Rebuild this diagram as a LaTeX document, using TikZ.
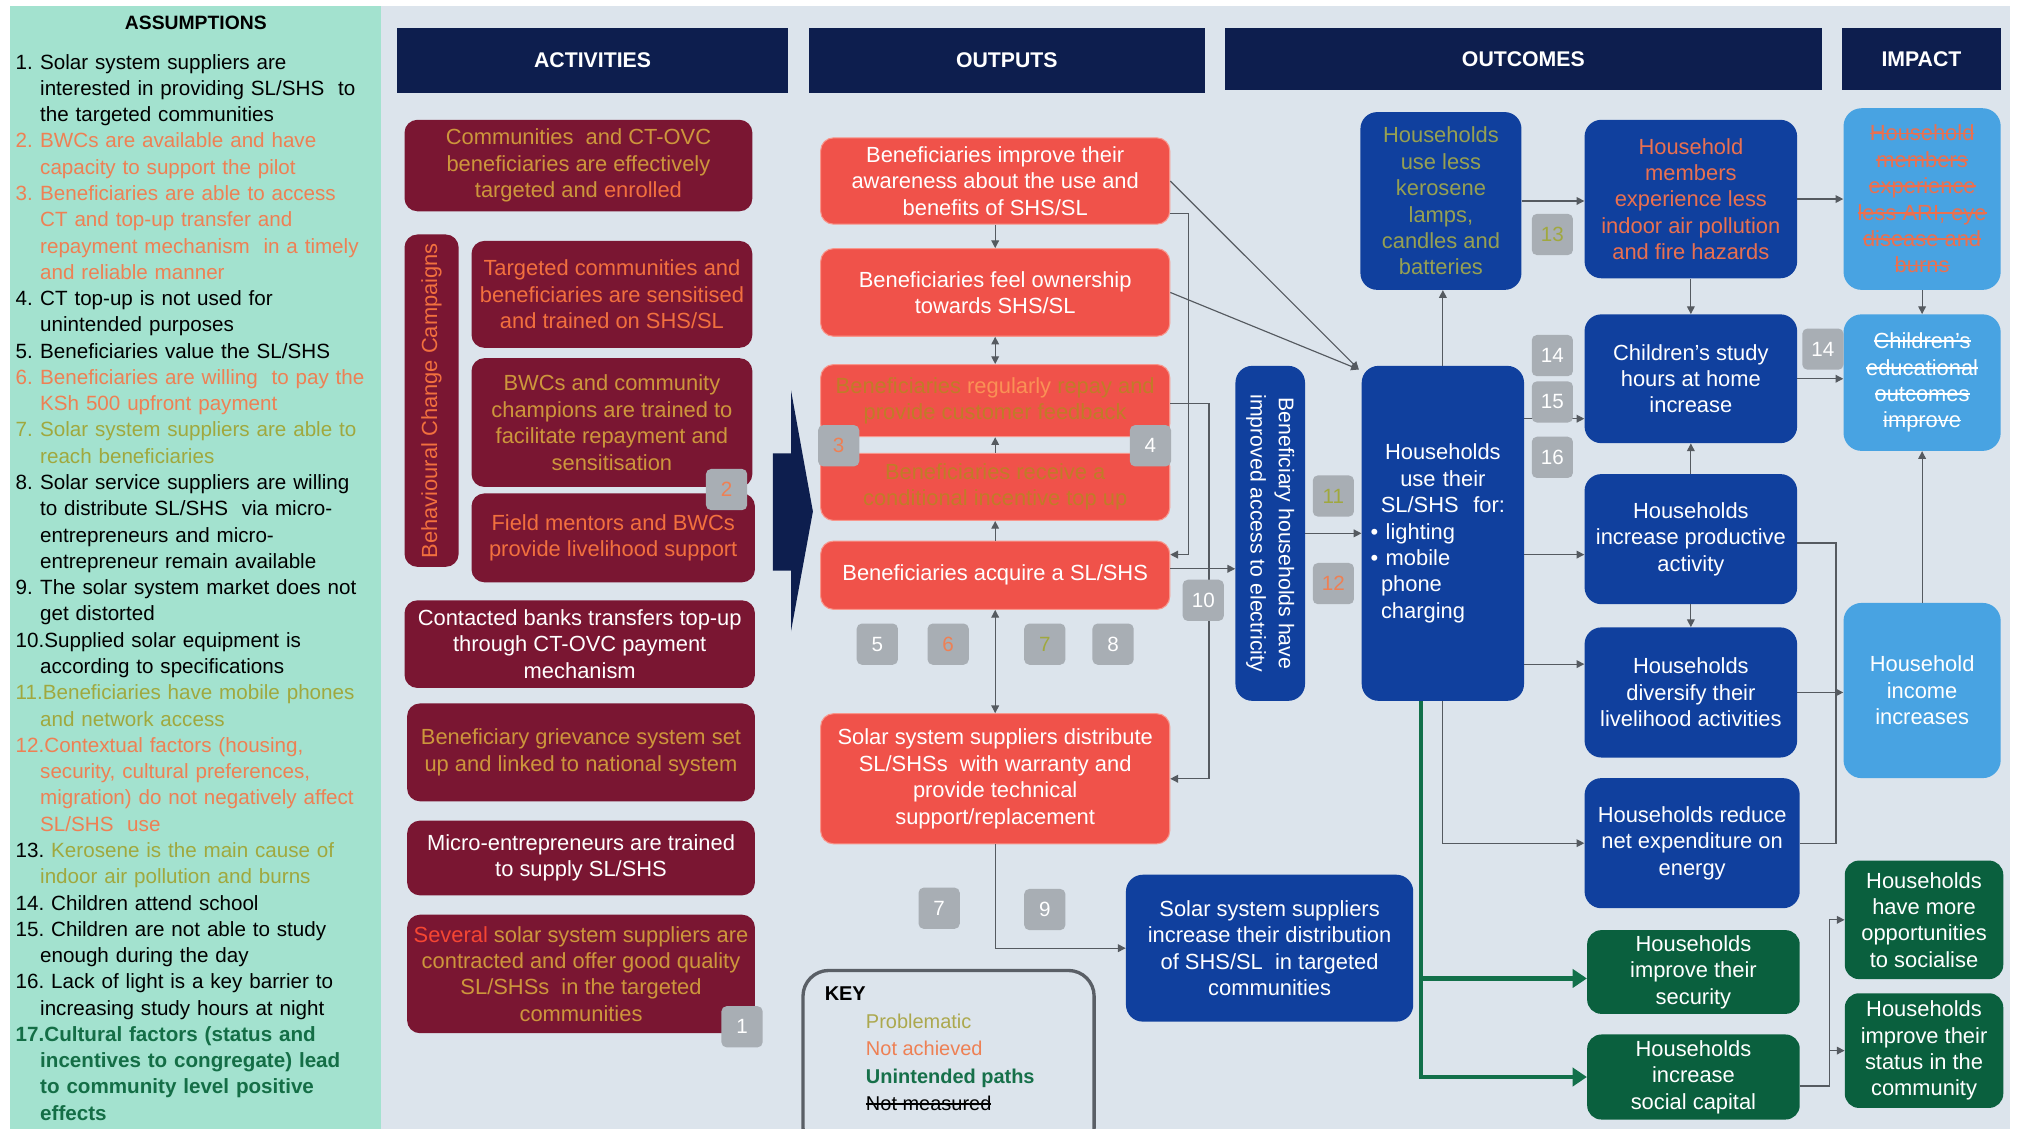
\documentclass[tikz,border=0pt]{standalone}
\usepackage{fontspec}
\setmainfont{Liberation Sans}
\usetikzlibrary{arrows.meta,calc}

\definecolor{bg}{RGB}{220,228,236}
\definecolor{mint}{RGB}{163,226,207}
\definecolor{navy}{RGB}{13,30,78}
\definecolor{maroon}{RGB}{122,22,50}
\definecolor{outred}{RGB}{240,82,74}
\definecolor{outedge}{RGB}{248,150,140}
\definecolor{oblue}{RGB}{16,64,158}
\definecolor{iblue}{RGB}{72,163,226}
\definecolor{ggreen}{RGB}{10,96,62}
\definecolor{gline}{RGB}{18,112,74}
\definecolor{badgegray}{RGB}{168,174,180}
\definecolor{arrowgray}{RGB}{85,90,96}
\definecolor{keygray}{RGB}{90,95,102}
\definecolor{prob}{RGB}{160,168,62}
\definecolor{probk}{RGB}{172,168,78}
\definecolor{notach}{RGB}{238,128,84}
\definecolor{gold}{RGB}{205,150,60}
\definecolor{hotorange}{RGB}{242,112,62}
\definecolor{sevred}{RGB}{245,70,50}
\definecolor{brownish}{RGB}{192,124,40}
\definecolor{regorange}{RGB}{250,145,85}
\definecolor{kerolive}{RGB}{150,160,82}
\definecolor{salmon}{RGB}{234,112,80}
\definecolor{unint}{RGB}{22,112,74}
\definecolor{asmgreen}{RGB}{20,110,70}

% numbered assumption with hanging indent
\newcommand\numbox[1]{\setbox0=\hbox{#1}\ifdim\wd0<19pt\hbox to 19pt{#1\hfil}\else\hbox{#1}\fi}
\newcommand\asm[3]{\par\hangindent=19pt\hangafter=1\noindent{\color{#1}\numbox{#2}#3}}
% struck-through word
\newcommand\strk[1]{\leavevmode\setbox2=\hbox{#1}\rlap{\copy2}\rule[0.3em]{\wd2}{0.075em}}

\tikzset{
  boxfont/.style={font=\fontsize{17}{20.5}\selectfont},
  hdr/.style={fill=navy, text=white, inner sep=0pt, font=\bfseries\fontsize{16.5}{20}\selectfont},
  act/.style={boxfont, fill=maroon, rounded corners=10pt, align=center, inner sep=0pt, text=white},
  outp/.style={boxfont, fill=outred, draw=outedge, line width=0.8pt, rounded corners=10pt, align=center, inner sep=0pt, text=white},
  outc/.style={boxfont, fill=oblue, rounded corners=13pt, align=center, inner sep=0pt, text=white},
  imp/.style={boxfont, fill=iblue, rounded corners=14pt, align=center, inner sep=0pt, text=white},
  grn/.style={boxfont, fill=ggreen, rounded corners=11pt, align=center, inner sep=0pt, text=white},
  badge/.style={fill=badgegray, rounded corners=4pt, minimum width=32pt, minimum height=32pt, inner sep=0pt, text=white, font=\fontsize{16}{16}\selectfont},
  keybox/.style={draw=keygray, line width=2.6pt, rounded corners=20pt},
  ln/.style={draw=arrowgray, line width=0.9pt},
  arr/.style={ln, -{Triangle[length=6pt,width=6pt]}},
  darr/.style={ln, {Triangle[length=6pt,width=6pt]}-{Triangle[length=6pt,width=6pt]}},
  garr/.style={draw=gline, line width=3.6pt, -{Triangle[length=11pt,width=14pt]}},
}

\begin{document}
\begin{tikzpicture}[x=1pt,y=-1pt,font=\fontsize{16}{20.5}\selectfont]
\useasboundingbox (0,0) rectangle (1568,876);
\clip (0,0) rectangle (1568,876);
\fill[white] (0,0) rectangle (1568,876);
\fill[bg] (296,5) rectangle (1560,876);
\fill[mint] (8,5) rectangle (296,876);

% ---------- assumptions panel ----------
\node[font=\bfseries\fontsize{15}{18}\selectfont] (asmtitle) at (152,18) {ASSUMPTIONS};
\node[anchor=north west, inner sep=0pt, text width=285pt, align=left, font=\fontsize{16}{20.4}\selectfont] (asmlist) at (12,33) {%
\asm{black}{1.}{Solar system suppliers are\newline interested in providing SL/SHS\ \ to\newline the targeted communities}
\asm{notach}{2.}{BWCs are available and have\newline capacity to support the pilot}
\asm{notach}{3.}{Beneficiaries are able to access\newline CT and top-up transfer and\newline repayment mechanism\ \ in a timely\newline and reliable manner}
\asm{black}{4.}{CT top-up is not used for\newline unintended purposes}
\asm{black}{5.}{Beneficiaries value the SL/SHS}
\asm{notach}{6.}{Beneficiaries are willing\ \ to pay the\newline KSh 500 upfront payment}
\asm{prob}{7.}{Solar system suppliers are able to\newline reach beneficiaries}
\asm{black}{8.}{Solar service suppliers are willing\newline to distribute SL/SHS\ \ via micro-\newline entrepreneurs and micro-\newline entrepreneur remain available}
\asm{black}{9.}{The solar system market does not\newline get distorted}
\asm{black}{10.}{Supplied solar equipment is\newline according to specifications}
\asm{prob}{11.}{Beneficiaries have mobile phones\newline and network access}
\asm{notach}{12.}{Contextual factors (housing,\newline security, cultural preferences,\newline migration) do not negatively affect\newline SL/SHS\ \ use}
\asm{black}{13.\ }{\color{prob}Kerosene is the main cause of\newline indoor air pollution and burns}
\asm{black}{14.\ }{Children attend school}
\asm{black}{15.\ }{Children are not able to study\newline enough during the day}
\asm{black}{16.\ }{Lack of light is a key barrier to\newline increasing study hours at night}
\asm{asmgreen}{\bfseries 17.}{\bfseries Cultural factors (status and\newline incentives to congregate) lead\newline to community level positive\newline effects}\par
};

% ---------- column headers ----------
\node[hdr, minimum width=304pt, minimum height=50pt] (hact) at (460,47) {ACTIVITIES};
\node[hdr, minimum width=307pt, minimum height=50pt] (hout) at (781.5,47) {OUTPUTS};
\node[hdr, minimum width=463pt, minimum height=48pt] (houtc) at (1182.5,46) {OUTCOMES};
\node[hdr, minimum width=123pt, minimum height=48pt] (himp) at (1491.5,46) {IMPACT};

% ---------- activities ----------
\node[act, minimum width=270pt, minimum height=71pt, text=gold] (a1) at (449,128.5)
  {Communities\ \ and CT-OVC\\beneficiaries are effectively\\targeted and {\color{hotorange}enrolled}};
\node[act, minimum width=42pt, minimum height=258pt] (bcc) at (335,311) {};
\node[rotate=90, text=hotorange, inner sep=0pt, font=\fontsize{17}{20}\selectfont] (bcctext) at (bcc) {Behavioural Change Campaigns};
\node[act, minimum width=218pt, minimum height=83pt, text=hotorange] (a2) at (475,228.5)
  {Targeted communities and\\beneficiaries are sensitised\\and trained on SHS/SL};
\node[act, minimum width=218pt, minimum height=100pt, text=gold] (a3) at (475,328)
  {BWCs and community\\champions are trained to\\facilitate repayment and\\sensitisation};
\node[act, minimum width=220pt, minimum height=69pt, text=hotorange] (a4) at (476,417.5)
  {Field mentors and BWCs\\provide livelihood support};
\node[act, minimum width=272pt, minimum height=68pt] (a5) at (450,500)
  {Contacted banks transfers top-up\\through CT-OVC payment\\mechanism};
\node[act, minimum width=270pt, minimum height=76pt, text=gold] (a6) at (451,584)
  {Beneficiary grievance system set\\up and linked to national system};
\node[act, minimum width=270pt, minimum height=58pt] (a7) at (451,666)
  {Micro-entrepreneurs are trained\\to supply SL/SHS};
\node[act, minimum width=270pt, minimum height=92pt, text=gold] (a8) at (451,756)
  {{\color{sevred}Several} solar system suppliers are\\contracted and offer good quality\\SL/SHSs\ \ in the targeted\\communities};

% arrow from activities to outputs
\fill[navy] (614,303) -- (631,397) -- (614,490) -- (614,443) -- (600,443) -- (600,352) -- (614,352) -- cycle;

% ---------- outputs ----------
\node[outp, minimum width=271pt, minimum height=67pt] (o1) at (772.5,140.5)
  {Beneficiaries improve their\\awareness about the use and\\benefits of SHS/SL};
\node[outp, minimum width=271pt, minimum height=68pt] (o2) at (772.5,227)
  {Beneficiaries feel ownership\\towards SHS/SL};
\node[outp, minimum width=271pt, minimum height=56pt, text=brownish] (o3) at (772.5,311)
  {Beneficiaries {\color{regorange}regularly} repay and\\provide customer feedback};
\node[outp, minimum width=271pt, minimum height=52pt, text=brownish] (o4) at (772.5,378)
  {Beneficiaries receive a\\conditional incentive top up};
\node[outp, minimum width=271pt, minimum height=53pt] (o5) at (772.5,446.5)
  {Beneficiaries acquire a SL/SHS};
\node[outp, minimum width=271pt, minimum height=101pt] (o6) at (772.5,604.5)
  {Solar system suppliers distribute\\SL/SHSs\ \ with warranty and\\provide technical\\support/replacement};

% key
\node[keybox, minimum width=226pt, minimum height=142pt, anchor=north west] (key) at (622,752) {};
\node[anchor=north west, inner sep=0pt, align=left, font=\fontsize{15.5}{21.3}\selectfont] (keytext) at (640,766)
  {{\bfseries KEY}\\
   \hspace*{32pt}{\color{probk}Problematic}\\
   \hspace*{32pt}{\color{notach}Not achieved}\\
   \hspace*{32pt}{\color{unint}\bfseries Unintended paths}\\
   \hspace*{32pt}\strk{Not measured}};

% ---------- outcomes ----------
\node[outc, minimum width=54pt, minimum height=260pt] (acc) at (986,414) {};
\node[rotate=-90, text=white, align=center, inner sep=0pt, font=\fontsize{16.5}{22}\selectfont] (acctext) at (acc)
  {Beneficiary households have\\improved access to electricity};
\node[outc, minimum width=126pt, minimum height=260pt, text width=112pt, align=left] (use) at (1120,414)
  {\makebox[112pt]{Households}\\\makebox[112pt]{use their}\\\makebox[112pt]{SL/SHS\ \ for:}\\%
   \textbullet\ lighting\\\textbullet\ mobile\\\hspace*{8pt}phone\\\hspace*{8pt}charging};
\node[outc, minimum width=125pt, minimum height=138pt, text=kerolive] (kero) at (1118.5,156)
  {Households\\use less\\kerosene\\lamps,\\candles and\\batteries};
\node[outc, minimum width=165pt, minimum height=123pt, text=salmon] (hhm) at (1312.5,154.5)
  {Household\\members\\experience less\\indoor air pollution\\and fire hazards};
\node[outc, minimum width=165pt, minimum height=100pt] (study) at (1312.5,294)
  {Children's study\\hours at home\\increase};
\node[outc, minimum width=165pt, minimum height=101pt] (prod) at (1312.5,418.5)
  {Households\\increase productive\\activity};
\node[outc, minimum width=165pt, minimum height=101pt] (div) at (1312.5,537.5)
  {Households\\diversify their\\livelihood activities};
\node[outc, minimum width=167pt, minimum height=101pt] (red) at (1313.5,654.5)
  {Households reduce\\net expenditure on\\energy};
\node[outc, minimum width=223pt, minimum height=114pt] (sup) at (985.5,736)
  {Solar system suppliers\\increase their distribution\\of SHS/SL\ \ in targeted\\communities};
\node[grn, minimum width=165pt, minimum height=65pt] (sec) at (1314.5,754.5)
  {Households\\improve their\\security};
\node[grn, minimum width=165pt, minimum height=66pt] (soc) at (1314.5,836)
  {Households\\increase\\social capital};

% ---------- impact ----------
\node[imp, minimum width=122pt, minimum height=141pt, text=salmon] (i1) at (1492,154.5)
  {\strk{Household}\\\strk{members}\\\strk{experience}\\\strk{less ARI, eye}\\\strk{disease and}\\\strk{burns}};
\node[imp, minimum width=122pt, minimum height=106pt] (i2) at (1492,297)
  {\strk{Children's}\\\strk{educational}\\\strk{outcomes}\\\strk{improve}};
\node[imp, minimum width=122pt, minimum height=136pt] (i3) at (1492,536)
  {Household\\income\\increases};
\node[grn, minimum width=123pt, minimum height=92pt] (g1) at (1493.5,714)
  {Households\\have more\\opportunities\\to socialise};
\node[grn, minimum width=123pt, minimum height=89pt] (g2) at (1493.5,815.5)
  {Households\\improve their\\status in the\\community};

% ---------- connectors: outputs ----------
\draw[arr] (o1.south) -- (o2.north);
\draw[darr] (o2.south) -- (o3.north);
\draw[arr] (o4.north) -- (o3.south);
\draw[arr] (o5.north) -- (o4.south);
\draw[darr] (o5.south) -- (o6.north);
\draw[arr] ([yshift=-25pt]o1.east) -- ++(14,0) |- ([yshift=16pt]o5.east);
\draw[arr] ([yshift=-2pt]o3.east) -- ++(30,0) |- (o6.east);
\coordinate (p5) at ([yshift=5pt]o5.east);
\draw[arr] (p5) -- (p5 -| acc.west);
\draw[arr] (o1.east) -- ([xshift=-2pt,yshift=-3pt]use.north west);
\draw[arr] (o2.east) -- ([xshift=-2pt,yshift=-3pt]use.north west);
\draw[arr] (o6.south) |- (sup.west);

% ---------- connectors: outcomes and impact ----------
\draw[arr] (acc.east) -- (use.west);
\draw[arr] (use.north) -- (use.north |- kero.south);
\draw[arr] (kero.east) -- (kero.east -| hhm.west);
\draw[arr] (hhm.south) -- (study.north);
\draw[arr] (hhm.east) -- (hhm.east -| i1.west);
\draw[arr] (i1.south) -- (i2.north);
\coordinate (p2) at ([yshift=-31pt]study.west);
\draw[arr] (p2 -| use.east) -- (p2);
\draw[arr] (study.east) -- (study.east -| i2.west);
\draw[arr] (prod.north) -- (study.south);
\draw[arr] (prod.south) -- (div.north);
\coordinate (p3) at ([yshift=-12pt]prod.west);
\draw[arr] (p3 -| use.east) -- (p3);
\coordinate (p4) at ([yshift=22pt]div.west);
\draw[arr] (p4 -| use.east) -- (p4);
\draw[arr] (use.south) |- (red.west);
\draw[ln] ([yshift=-3pt]prod.east) -- ++(30,0) |- (red.east);
\draw[arr] (div.east) -- (div.east -| i3.west);
\draw[arr] (i3.north) -- (i2.south);

% unintended paths
\draw[garr] ([xshift=-17pt]use.south) |- ([yshift=-5pt]sec.west);
\draw[garr] ([xshift=-17pt]use.south) |- (soc.west);
\coordinate (sx) at ([yshift=-7pt]soc.east);
\draw[ln] (sx) -- ++(23,0) coordinate (sv);
\draw[arr] (sv) |- (g1.west);
\draw[arr] (sv) |- (g2.west);

% ---------- assumption badges (drawn over the connectors) ----------
\node[badge, text=notach] (b2) at (564,380) {2};
\node[badge] (b1) at (576,797) {1};
\node[badge, text=notach] (b3) at (651,346) {3};
\node[badge] (b4) at (893,346) {4};
\node[badge] (b5) at (681,500) {5};
\node[badge, text=notach] (b6) at (736,500) {6};
\node[badge, text=prob] (b7) at (811,500) {7};
\node[badge] (b8) at (864,500) {8};
\node[badge] (b10) at (934,466) {10};
\node[badge] (b7b) at (729,705) {7};
\node[badge] (b9) at (811,706) {9};
\node[badge, text=prob] (b11) at (1035,385) {11};
\node[badge, text=notach] (b12) at (1035,453) {12};
\node[badge, text=prob] (b13) at (1205,182) {13};
\node[badge] (b14) at (1205,276) {14};
\node[badge] (b15) at (1205,312) {15};
\node[badge] (b16) at (1205,355) {16};
\node[badge] (b14i) at (1415,271) {14};
\end{tikzpicture}
\end{document}
